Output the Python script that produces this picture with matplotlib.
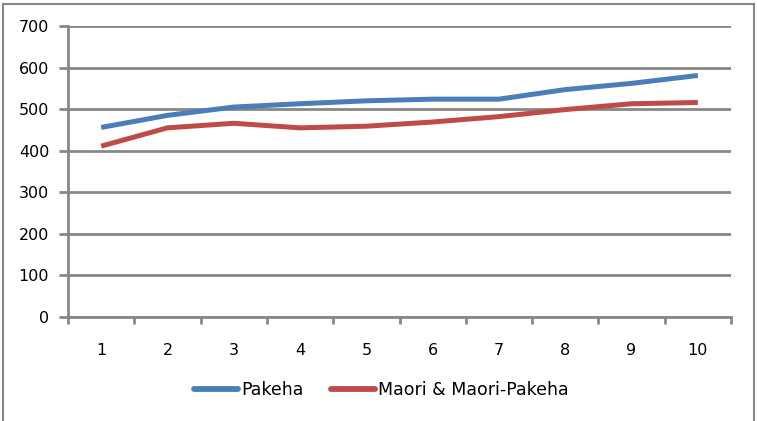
import matplotlib
matplotlib.use('Agg')
import matplotlib.pyplot as plt
from matplotlib.lines import Line2D

# values
periods = [1, 2, 3, 4, 5, 6, 7, 8, 9, 10]
pakeha = [456, 485, 505, 513, 520, 524, 524, 547, 562, 581]
maori = [411, 455, 466, 455, 459, 469, 482, 499, 513, 516]
y_ticks = [0, 100, 200, 300, 400, 500, 600, 700]

grey = '#878787'
plt.rcParams['font.family'] = ['DejaVu Sans']

fig = plt.figure(figsize=(7.57, 4.21), dpi=100)
ax = fig.add_axes([68 / 757, 1 - 317 / 421, (731 - 68) / 757, (317 - 26) / 421])

ax.plot(periods, pakeha, color='#4a7ebb', linewidth=3.6, label='Pakeha', solid_capstyle='butt')
ax.plot(periods, maori, color='#be4b48', linewidth=3.6, label='Maori & Maori-Pakeha', solid_capstyle='butt')

ax.set_xlim(0.5, 10.5)
ax.set_ylim(0, 700)
ax.set_yticks(y_ticks)
ax.set_xticks(periods)
ax.set_xticks([p - 0.5 for p in periods] + [10.5], minor=True)

ax.grid(axis='y', color=grey, linewidth=2)
ax.set_axisbelow(True)
for side in ['top', 'right']:
    ax.spines[side].set_visible(False)
for side in ['left', 'bottom']:
    ax.spines[side].set_color(grey)
    ax.spines[side].set_linewidth(2)

ax.tick_params(axis='y', length=6.5, width=2, color=grey, labelsize=11.5, pad=7)
ax.tick_params(axis='x', which='major', length=0, labelsize=11.5, pad=19)
ax.tick_params(axis='x', which='minor', length=5, width=2, color=grey)

leg = ax.legend(loc='center', bbox_to_anchor=(0.504, 1 - 390 / 421), bbox_transform=fig.transFigure,
                ncol=2, frameon=False, fontsize=12.5, handlelength=2.5, handletextpad=0.2,
                columnspacing=1.6)
for h in leg.get_lines():
    h.set_linewidth(4.2)
    h.set_solid_capstyle('round')

# outer chart border (left, top, right; bottom is cut off in the reference)
x0, x1, ytop = 2.5 / 757, 753.5 / 757, 1 - 3.5 / 421
for xs, ys in [([x0, x0], [0, ytop]), ([x0, x1], [ytop, ytop]), ([x1, x1], [ytop, 0])]:
    fig.add_artist(Line2D(xs, ys, transform=fig.transFigure, color=grey, linewidth=1.5))

fig.savefig('out.png', dpi=100)
